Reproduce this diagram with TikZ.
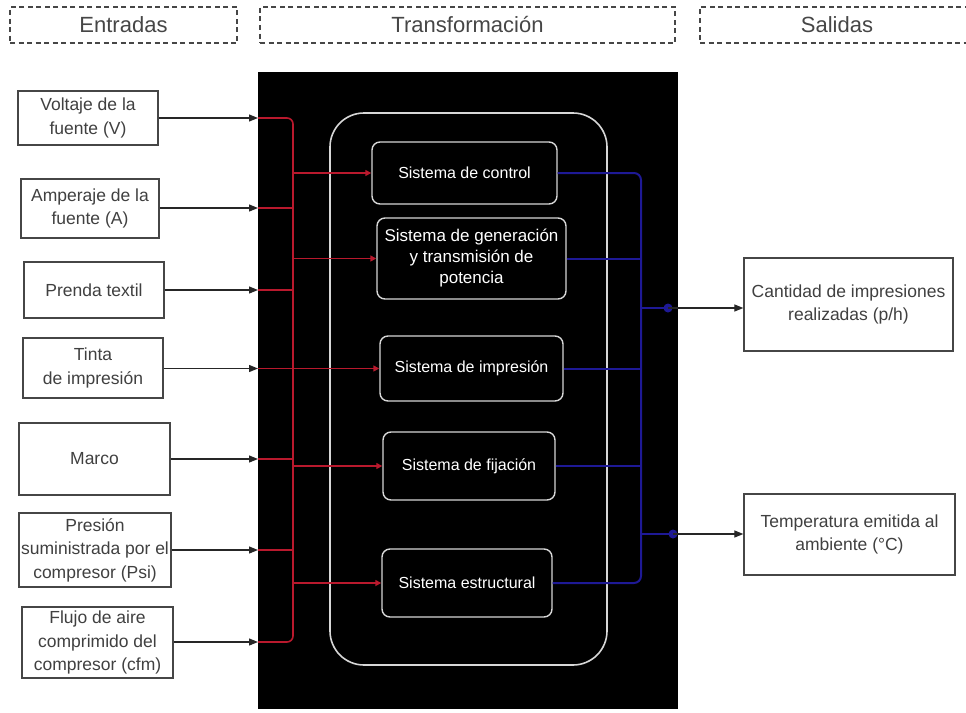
\documentclass[tikz,border=0pt]{standalone}
\usepackage{fontspec}
\setmainfont{Liberation Sans}
\usetikzlibrary{arrows.meta}
\definecolor{wirered}{RGB}{185,25,45}
\definecolor{wireblue}{RGB}{30,25,150}
\definecolor{edge}{RGB}{70,70,70}
\definecolor{panelline}{RGB}{215,215,215}

\begin{document}
\begin{tikzpicture}[x=1pt,y=-1pt,
  every node/.style={inner sep=0pt},
  header/.style={draw=edge, line width=1.8pt, dash pattern=on 5pt off 3.5pt,
    minimum height=36pt, font=\fontsize{22}{24}\selectfont, text=edge},
  inbox/.style={draw=edge, line width=1.3pt, fill=white, align=center,
    font=\fontsize{17.5}{23.5}\selectfont, text=black!75},
  sysbox/.style={draw=panelline, line width=1.4pt, rounded corners=8pt, fill=black,
    text=white, align=center, font=\fontsize{16}{21}\selectfont},
  feed/.style={draw=black!85, line width=1.2pt, -{Triangle[length=9pt,width=7pt]}},
  redwire/.style={draw=wirered, line width=1.6pt, rounded corners=6pt},
  redfeed/.style={draw=wirered, line width=1.6pt, -{Triangle[length=6pt,width=6pt]}},
  bluewire/.style={draw=wireblue, line width=2pt, rounded corners=7pt},
  junction/.style={circle, fill=wireblue, minimum size=9pt}
]
\useasboundingbox (0,0) rectangle (966,712);
\clip (0,0) rectangle (966,712);

% column headers
\node[header, minimum width=227pt] (hin) at (123.5,25) {Entradas};
\node[header, minimum width=415pt] (htr) at (467.5,25) {Transformación};
\node[header, minimum width=274pt] (hout) at (837,25) {Salidas};

% black transformation panel and its rounded frame
\node[fill=black, minimum width=420pt, minimum height=637pt, anchor=north west] (panel) at (258,72) {};
\draw[panelline, line width=1.6pt, rounded corners=34pt] (330,113) rectangle (607,665);

% inputs
\node[inbox, minimum width=140pt, minimum height=54pt] (in1) at (88,118) {Voltaje de la\\fuente (V)};
\node[inbox, minimum width=138pt, minimum height=59pt] (in2) at (90,208.5) {Amperaje de la\\fuente (A)};
\node[inbox, minimum width=140pt, minimum height=56pt] (in3) at (94,290) {Prenda textil};
\node[inbox, minimum width=140pt, minimum height=60pt] (in4) at (93,368) {Tinta\\de impresión};
\node[inbox, minimum width=151pt, minimum height=72pt] (in5) at (94.5,459) {Marco};
\node[inbox, minimum width=152pt, minimum height=74pt] (in6) at (95,550) {Presión\\suministrada por el\\compresor (Psi)};
\node[inbox, minimum width=151pt, minimum height=71pt] (in7) at (97.5,642.5) {Flujo de aire\\comprimido del\\compresor (cfm)};

% outputs
\node[inbox, minimum width=209pt, minimum height=93pt] (out1) at (848.5,304.5) {Cantidad de impresiones\\realizadas (p/h)};
\node[inbox, minimum width=211pt, minimum height=81pt] (out2) at (849.5,534.5) {Temperatura emitida al\\ambiente (°C)};

% subsystems
\node[sysbox, minimum width=185pt, minimum height=62pt] (ctrl) at (464.5,173) {Sistema de control};
\node[sysbox, minimum width=189pt, minimum height=81pt, font=\fontsize{17}{21}\selectfont] (gen) at (471.5,258.5) {Sistema de generación\\y transmisión de\\potencia};
\node[sysbox, minimum width=183pt, minimum height=65pt] (imp) at (471.5,368.5) {Sistema de impresión};
\node[sysbox, minimum width=172pt, minimum height=68pt] (fij) at (469,466) {Sistema de fijación};
\node[sysbox, minimum width=170pt, minimum height=68pt] (est) at (467,583) {Sistema estructural};

% entry points on the panel edge
\coordinate (p1) at (258,118);
\coordinate (p2) at (258,208);
\coordinate (p3) at (258,290);
\coordinate (p4) at (258,368.5);
\coordinate (p5) at (258,459);
\coordinate (p6) at (258,550);
\coordinate (p7) at (258,642);

\foreach \i in {1,...,7} {\draw[feed] (in\i.east |- p\i) -- (p\i);}

% red distribution bus
\draw[redwire] (p1) -- (293,118) -- (293,642) -- (p7);
\foreach \i in {2,3,5,6} {\draw[redwire] (p\i) -- (293,0 |- p\i);}
\draw[redfeed] (293,173) -- (ctrl.west);
\draw[redfeed] (293,258.5) -- (gen.west);
\draw[redfeed] (p4) -- (imp.west);
\draw[redfeed] (293,466) -- (fij.west);
\draw[redfeed] (293,583) -- (est.west);

% blue collection bus
\coordinate (j1) at (668,308);
\coordinate (j2) at (673,534);
\draw[bluewire] (ctrl.east) -- (641,173) -- (641,583) -- (est.east);
\draw[bluewire] (gen.east) -- (641,258.5);
\draw[bluewire] (imp.east) -- (641,368.5);
\draw[bluewire] (fij.east) -- (641,466);
\draw[bluewire] (641,308) -- (j1);
\draw[bluewire] (641,534) -- (j2);
\node[junction] at (j1) {};
\node[junction] at (j2) {};

\draw[feed] (j1) -- (j1 -| out1.west);
\draw[feed] (j2) -- (j2 -| out2.west);
\end{tikzpicture}
\end{document}
